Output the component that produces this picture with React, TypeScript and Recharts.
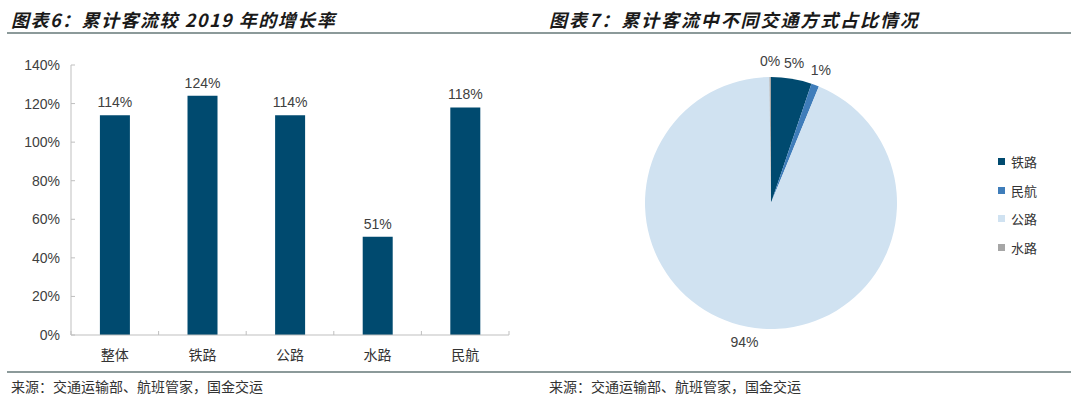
import React from 'react';
import { BarChart, Bar, XAxis, YAxis, LabelList, PieChart, Pie, Cell, Legend } from 'recharts';

const barCategories = ['整体', '铁路', '公路', '水路', '民航'];
const growthValues = [114, 124, 114, 51, 118];
const yTicks = [0, 20, 40, 60, 80, 100, 120, 140];

const pieNames = ['铁路', '民航', '公路', '水路'];
const pieValues = [5.2, 1.0, 93.6, 0.2];
const pieColors = ['#004A6F', '#3F7DBA', '#D0E2F1', '#A6A6A6'];

const title6 = '图表6：累计客流较 2019 年的增长率';
const title7 = '图表7：累计客流中不同交通方式占比情况';
const sourceText = '来源：交通运输部、航班管家，国金交运';

const barData = barCategories.map((c, i) => ({ name: c, value: growthValues[i] }));
const pieData = pieNames.map((n, i) => ({ name: n, value: pieValues[i] }));

const CJK = '"Noto Sans CJK SC", "Noto Sans", sans-serif';
const LATIN = '"Liberation Sans", Arial, sans-serif';
const AXIS = '#BFBFBF';
const RULE = '#8C9A9A';
const LABEL_GAP = 19;

const RAD = Math.PI / 180;

const CategoryTick = (props: any) => {
  const { x, y, payload, width, visibleTicksCount, index } = props;
  const band = width / (visibleTicksCount || barCategories.length);
  const axisY = y - LABEL_GAP;
  const left = x - band / 2;
  const right = x + band / 2;
  return (
    <g>
      <line x1={left} x2={left} y1={axisY} y2={axisY - 4} stroke={AXIS} />
      {index === (visibleTicksCount || barCategories.length) - 1 && (
        <line x1={right} x2={right} y1={axisY} y2={axisY - 4} stroke={AXIS} />
      )}
      <text x={x} y={y} textAnchor="middle" dominantBaseline="central" fontSize={14} fill="#333" fontFamily={CJK}>
        {payload.value}
      </text>
    </g>
  );
};

const renderPieLabel = (props: any) => {
  const { cx, cy, midAngle, outerRadius, value } = props;
  const r = outerRadius + 16;
  const x = cx + r * Math.cos(-midAngle * RAD);
  const y = cy + r * Math.sin(-midAngle * RAD);
  return (
    <text x={x} y={y} textAnchor="middle" dominantBaseline="central" fontSize={14} fill="#404040" fontFamily={LATIN}>
      {`${Math.round(value)}%`}
    </text>
  );
};

const renderLegend = () => (
  <div>
    {pieNames.map((n, i) => (
      <div key={n} style={{ height: 28.7, display: 'flex', alignItems: 'center' }}>
        <span style={{ display: 'inline-block', width: 7, height: 7, background: pieColors[i], marginRight: 6 }} />
        <span style={{ fontSize: 13, color: '#333', fontFamily: CJK }}>{n}</span>
      </div>
    ))}
  </div>
);

export default function App() {
  return (
    <div style={{ position: 'absolute', left: 0, top: 0, width: 1080, height: 402, background: '#fff', overflow: 'hidden' }}>
      <div style={{ position: 'absolute', left: 11, top: 7, fontSize: 18, lineHeight: '24px', fontWeight: 700, fontStyle: 'italic', fontFamily: CJK, color: '#1a1a1a', letterSpacing: 1.5, whiteSpace: 'nowrap' }}>{title6}</div>
      <div style={{ position: 'absolute', left: 549, top: 7, fontSize: 18, lineHeight: '24px', fontWeight: 700, fontStyle: 'italic', fontFamily: CJK, color: '#1a1a1a', letterSpacing: 1.9, whiteSpace: 'nowrap' }}>{title7}</div>
      <div style={{ position: 'absolute', left: 7, top: 32, width: 1064, height: 2, background: RULE }} />
      <div style={{ position: 'absolute', left: 7, top: 371, width: 1064, height: 2, background: RULE }} />
      <div style={{ position: 'absolute', left: 11, top: 376, fontSize: 14, lineHeight: '20px', fontFamily: CJK, color: '#333', whiteSpace: 'nowrap' }}>{sourceText}</div>
      <div style={{ position: 'absolute', left: 549, top: 376, fontSize: 14, lineHeight: '20px', fontFamily: CJK, color: '#333', whiteSpace: 'nowrap' }}>{sourceText}</div>

      <div style={{ position: 'absolute', left: 0, top: 40 }}>
        <BarChart width={540} height={340} data={barData} margin={{ top: 25, right: 31, bottom: 15, left: 0 }} barCategoryGap="33%">
          <XAxis dataKey="name" type="category" height={30} axisLine={{ stroke: AXIS }} tickLine={false} tickSize={0} tickMargin={LABEL_GAP} interval={0} tick={<CategoryTick />} />
          <YAxis width={71} domain={[0, 140]} ticks={yTicks} interval={0} tickFormatter={(v: number) => `${v}%`} tickSize={-4} tickMargin={15} axisLine={{ stroke: AXIS }} tickLine={{ stroke: AXIS }} tick={{ fontSize: 14, fill: '#404040', fontFamily: LATIN }} />
          <Bar dataKey="value" fill="#004A6F" isAnimationActive={false}>
            <LabelList dataKey="value" position="top" offset={8} formatter={(v: any) => `${v}%`} style={{ fontSize: 14, fill: '#404040', fontFamily: LATIN }} />
          </Bar>
        </BarChart>
      </div>

      <div style={{ position: 'absolute', left: 540, top: 40 }}>
        <PieChart width={540} height={340} margin={{ top: 0, right: 0, bottom: 0, left: 0 }}>
          <Pie data={pieData} dataKey="value" nameKey="name" cx={231} cy={163} outerRadius={126} startAngle={90} endAngle={-270} stroke="none" label={renderPieLabel} labelLine={false} isAnimationActive={false}>
            {pieData.map((d, i) => <Cell key={d.name} fill={pieColors[i]} />)}
          </Pie>
          <Legend layout="vertical" content={renderLegend} wrapperStyle={{ left: 458, top: 107, width: 80 }} />
        </PieChart>
      </div>
    </div>
  );
}
